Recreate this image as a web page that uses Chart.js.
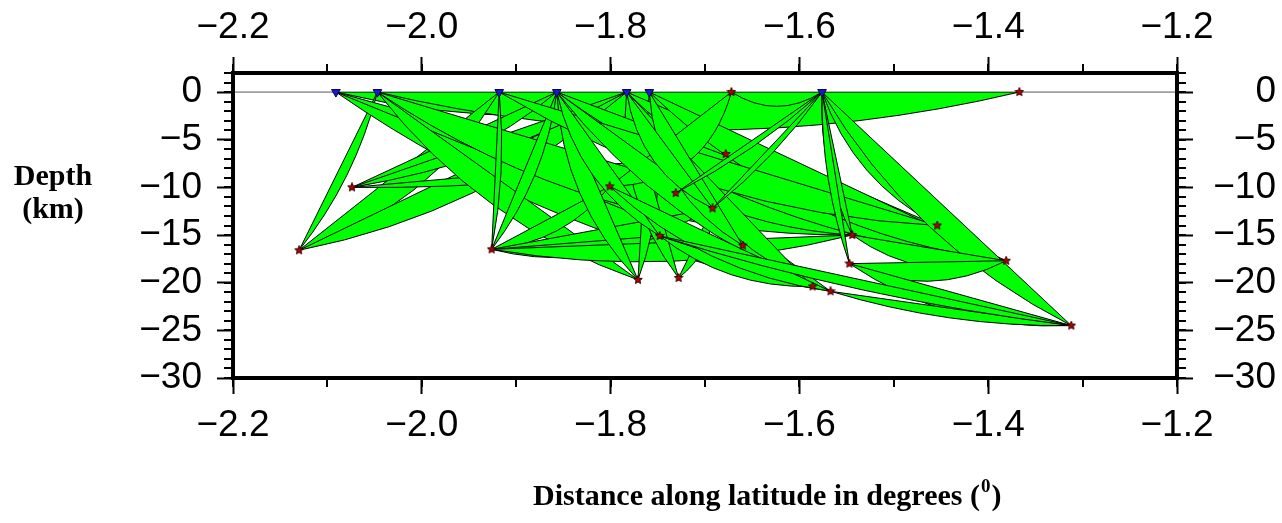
<!DOCTYPE html>
<html>
<head>
<meta charset="utf-8">
<script src="https://cdn.jsdelivr.net/npm/chart.js@4.4.1/dist/chart.umd.min.js"></script>
<style>
  html, body { margin: 0; padding: 0; background: #fff; }
</style>
</head>
<body>
<canvas id="c" width="1282" height="523"></canvas>
<script>
// stations at the surface (degrees along latitude)
const stationLon = [-2.091, -2.047, -1.918, -1.857, -1.783, -1.759, -1.576];

// events: position (degrees) and depth (km)
const eventLon   = [-2.130, -2.074, -1.926, -1.801, -1.731, -1.692, -1.678, -1.748, -1.660, -1.544,
                    -1.547, -1.771, -1.728, -1.586, -1.567, -1.454, -1.381, -1.312, -1.672, -1.367];
const eventDepth = [-16.6, -10.0, -16.5, -9.9, -10.6, -12.2, -6.5, -15.1, -16.1, -15.0,
                    -18.0, -19.7, -19.5, -20.4, -20.9, -14.0, -17.7, -24.5, 0, 0];

// ray zones: [end A, end B, zone thickness in km]
const zones = [
  ['S0', 'E18', 2.5], ['S2', 'E18', 2.0], ['S1', 'E19', 4.0], ['E18', 'S6', 1.5],
  ['E0', 'S1', 1.0], ['E0', 'S2', 2.5], ['E0', 'S4', 2.5], ['E1', 'E6', 1.0],
  ['E1', 'S3', 1.6], ['E1', 'S4', 1.3],
  ['S0', 'E9', 3.0], ['S1', 'E14', 3.5], ['S0', 'E13', 3.0], ['S1', 'E11', 2.5],
  ['S1', 'E9', 4.0],
  ['E2', 'S2', 0.6], ['E2', 'S3', 1.2], ['E2', 'E3', 1.5], ['E2', 'E5', 2.0],
  ['E2', 'E7', 1.5], ['E2', 'E9', 2.0],
  ['S3', 'E11', 2.0], ['S5', 'E11', 1.5], ['S4', 'E12', 2.0], ['E12', 'E5', 1.0],
  ['S3', 'E9', 3.5], ['S4', 'E15', 3.5], ['S3', 'E16', 3.5], ['S5', 'E16', 3.5],
  ['S2', 'E15', 3.0], ['E3', 'E18', 3.0], ['S3', 'E14', 2.5], ['S4', 'E13', 2.5],
  ['S5', 'E8', 2.5], ['S4', 'E5', 2.0], ['S3', 'E7', 2.0],
  ['E7', 'E13', 1.5], ['E3', 'E14', 2.0],
  ['E5', 'S6', 0.6], ['E4', 'S6', 0.6], ['S6', 'E9', 1.0], ['S6', 'E10', 0.8],
  ['S6', 'E15', 1.8], ['S6', 'E17', 2.6],
  ['E9', 'E16', 2.0], ['E10', 'E16', 2.0], ['E10', 'E17', 2.0], ['E14', 'E17', 1.0],
  ['E7', 'E17', 1.0]
];

const xTicks = [-2.2, -2.0, -1.8, -1.6, -1.4, -1.2];
const yTicks = [0, -5, -10, -15, -20, -25, -30];
const xMinorStep = 0.1;
const yMinorStep = 1;

function node(id) {
  const i = +id.slice(1);
  return id[0] === 'S' ? [stationLon[i], 0] : [eventLon[i], eventDepth[i]];
}

const minus = v => (v < 0 ? '\u2212' : '');
const fmtX = v => minus(v) + Math.abs(v).toFixed(1);
const fmtY = v => minus(v) + Math.abs(v);

function starImage(size) {
  const c = document.createElement('canvas');
  c.width = c.height = size;
  const g = c.getContext('2d');
  const r = size / 2 - 0.5, r2 = r * 0.45;
  g.beginPath();
  for (let i = 0; i < 10; i++) {
    const a = -Math.PI / 2 + i * Math.PI / 5;
    const rr = i % 2 ? r2 : r;
    g.lineTo(size / 2 + rr * Math.cos(a), size / 2 + rr * Math.sin(a));
  }
  g.closePath();
  g.fillStyle = '#b00000';
  g.fill();
  g.strokeStyle = '#3a0000';
  g.lineWidth = 1;
  g.stroke();
  return c;
}

// lens-shaped zones, straight along the chord and bulging below it
const zonePlugin = {
  id: 'zones',
  beforeDatasetsDraw(chart) {
    const { ctx, chartArea: a, scales: { x, y } } = chart;
    const y0 = y.getPixelForValue(0);
    const kmPx = Math.abs(y.getPixelForValue(1) - y0);
    ctx.save();
    ctx.strokeStyle = '#555';
    ctx.lineWidth = 1;
    ctx.beginPath();
    ctx.moveTo(a.left, y0);
    ctx.lineTo(a.right, y0);
    ctx.stroke();

    ctx.beginPath();
    ctx.rect(a.left, y0, a.right - a.left, a.bottom - y0);
    ctx.clip();

    ctx.fillStyle = '#00ff00';
    ctx.strokeStyle = '#000';
    ctx.lineWidth = 1;
    zones.forEach(([from, to, w]) => {
      let p = node(from), q = node(to);
      if (q[0] < p[0]) [p, q] = [q, p];
      const ax = x.getPixelForValue(p[0]), ay = y.getPixelForValue(p[1]);
      const bx = x.getPixelForValue(q[0]), by = y.getPixelForValue(q[1]);
      const dx = bx - ax, dy = by - ay, len = Math.hypot(dx, dy);
      const nx = -dy / len, ny = dx / len;
      const off = 2 * w * kmPx;
      ctx.beginPath();
      ctx.moveTo(ax, ay);
      ctx.lineTo(bx, by);
      ctx.quadraticCurveTo((ax + bx) / 2 + nx * off, (ay + by) / 2 + ny * off, ax, ay);
      ctx.closePath();
      ctx.fill();
      ctx.stroke();
    });
    ctx.restore();
  },
  afterDraw(chart) {
    const { ctx, chartArea: a, scales: { x, y } } = chart;
    ctx.save();
    ctx.strokeStyle = '#000';
    ctx.lineWidth = 2;
    ctx.beginPath();
    for (let v = x.min; v <= x.max + 1e-9; v += xMinorStep) {
      const px = Math.round(x.getPixelForValue(v));
      ctx.moveTo(px, a.top); ctx.lineTo(px, a.top - 9);
      ctx.moveTo(px, a.bottom); ctx.lineTo(px, a.bottom + 9);
    }
    for (let v = y.min; v <= y.max + 1e-9; v += yMinorStep) {
      const py = Math.round(y.getPixelForValue(v));
      ctx.moveTo(a.left, py); ctx.lineTo(a.left - 9, py);
      ctx.moveTo(a.right, py); ctx.lineTo(a.right + 9, py);
    }
    ctx.stroke();

    ctx.lineWidth = 4;
    ctx.strokeRect(a.left, a.top, a.right - a.left, a.bottom - a.top);

    ctx.fillStyle = '#000';
    ctx.font = 'bold 30px "Liberation Serif", "Times New Roman", serif';
    ctx.textAlign = 'center';
    ctx.textBaseline = 'alphabetic';
    ctx.fillText('Depth', 53, 185);
    ctx.fillText('(km)', 53, 218);

    ctx.textAlign = 'left';
    const base = 505;
    let tx = 533;
    const part = 'Distance along latitude in degrees (';
    ctx.fillText(part, tx, base);
    tx += ctx.measureText(part).width;
    ctx.font = 'bold 19px "Liberation Serif", "Times New Roman", serif';
    ctx.fillText('0', tx + 1, base - 13);
    tx += ctx.measureText('0').width + 2;
    ctx.font = 'bold 30px "Liberation Serif", "Times New Roman", serif';
    ctx.fillText(')', tx, base);
    ctx.restore();
  }
};

const tickFont = { family: '"Liberation Sans", Arial, Helvetica, sans-serif', size: 37 };
const gridOpts = { drawOnChartArea: false, drawTicks: true, tickLength: 16, tickWidth: 2, tickColor: '#000' };

function xAxis(position, padding, height) {
  return {
    type: 'linear', position, min: -2.2, max: -1.2,
    afterBuildTicks: s => { s.ticks = xTicks.map(v => ({ value: v })); },
    afterFit: s => { s.height = height; },
    ticks: { callback: fmtX, font: tickFont, color: '#000', padding, autoSkip: false, maxRotation: 0, minRotation: 0 },
    grid: gridOpts,
    border: { display: false }
  };
}
function yAxis(position, padding, width, crossAlign) {
  return {
    type: 'linear', position, min: -30, max: 2,
    afterBuildTicks: s => { s.ticks = yTicks.map(v => ({ value: v })); },
    afterFit: s => { s.width = width; },
    ticks: { callback: fmtY, font: tickFont, color: '#000', padding, autoSkip: false, crossAlign },
    grid: gridOpts,
    border: { display: false }
  };
}

new Chart(document.getElementById('c'), {
  type: 'scatter',
  data: {
    datasets: [
      {
        label: 'Events',
        data: eventLon.map((v, i) => ({ x: v, y: eventDepth[i] })),
        pointStyle: starImage(10),
        pointRadius: 5
      },
      {
        label: 'Stations',
        data: stationLon.map(v => ({ x: v, y: 0 })),
        pointStyle: 'triangle',
        rotation: 180,
        pointRadius: 5,
        backgroundColor: '#1a1acc',
        borderColor: '#000050',
        borderWidth: 1
      }
    ]
  },
  options: {
    responsive: false,
    animation: false,
    devicePixelRatio: 1,
    layout: { padding: { left: 0, right: 6, top: 0, bottom: 0 } },
    plugins: { legend: { display: false }, tooltip: { enabled: false } },
    scales: {
      x: xAxis('bottom', 10, 145),
      x2: xAxis('top', 7, 73),
      y: yAxis('left', 15, 233, 'near'),
      y2: yAxis('right', 15, 99, 'far')
    }
  },
  plugins: [zonePlugin]
});
</script>
</body>
</html>
